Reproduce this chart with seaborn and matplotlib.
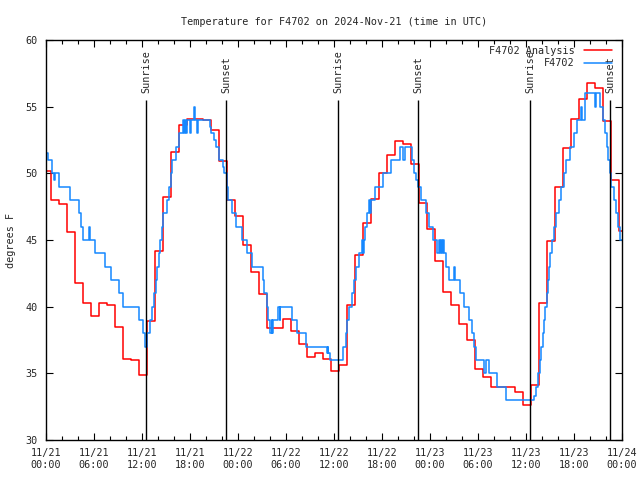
import pandas as pd
import numpy as np
import seaborn as sns
import matplotlib.pyplot as plt
import matplotlib.dates as mdates

# hourly analysis values (11/21 00:00 -> 11/24 00:00)
analysis_temps = [50.2, 48.0, 47.7, 45.6, 41.8, 40.3, 39.3, 40.3, 40.1, 38.5,
                  36.1, 36.0, 34.9, 38.9, 44.2, 48.2, 51.6, 53.6, 54.1, 54.1,
                  54.0, 53.25, 50.9, 48.0, 46.8, 44.6, 42.6, 40.95, 38.4, 38.4,
                  39.1, 38.2, 37.2, 36.2, 36.5, 36.05, 35.2, 35.6, 40.1, 43.9,
                  46.3, 48.1, 50.0, 51.4, 52.4, 52.2, 50.7, 47.75, 45.8, 43.4,
                  41.1, 40.1, 38.7, 37.5, 35.3, 34.75, 34.0, 34.0, 33.95, 33.6,
                  32.6, 34.1, 40.3, 44.95, 48.95, 51.9, 54.1, 55.6, 56.8, 56.4,
                  53.9, 49.5, 45.7]

# station observations: hours since 11/21 00:00 where the reading changes
obs_hours = [0.0, 0.2, 0.75, 1.05, 1.17, 1.67, 3.05, 4.08, 4.38, 4.58,
             5.42, 5.55, 6.17, 7.42, 8.15, 9.17, 9.58, 11.67, 12.08, 12.38,
             12.62, 13.0, 13.25, 13.46, 13.75, 13.9, 14.08, 14.3, 14.46, 14.67,
             15.08, 15.42, 15.62, 15.75, 16.25, 16.67, 17.17, 17.3, 17.4, 17.55,
             17.65, 18.0, 18.1, 18.55, 18.6, 18.85, 18.95, 20.5, 20.6, 21.05,
             21.25, 21.67, 22.17, 22.3, 22.58, 22.7, 23.2, 23.75, 24.55, 25.1,
             25.7, 27.1, 27.25, 27.6, 27.8, 28.0, 28.2, 28.3, 28.4, 29.05,
             29.2, 29.3, 30.8, 31.33, 32.5, 35.1, 35.2, 35.3, 35.5, 37.17,
             37.46, 37.67, 37.9, 38.2, 38.5, 38.8, 39.1, 39.5, 39.6, 39.7,
             39.83, 40.17, 40.4, 40.5, 40.6, 41.1, 42.17, 43.17, 44.25, 44.67,
             44.83, 45.7, 46.0, 46.3, 46.55, 46.9, 47.45, 47.9, 48.4, 48.9,
             49.1, 49.2, 49.35, 49.45, 49.6, 49.7, 49.95, 50.4, 51.0, 51.1,
             51.75, 52.25, 52.9, 53.2, 53.5, 53.7, 54.75, 55.0, 55.4, 56.4,
             57.45, 61.0, 61.3, 61.5, 61.75, 61.9, 62.1, 62.25, 62.4, 62.6,
             62.75, 62.9, 63.0, 63.2, 63.5, 63.8, 64.1, 64.4, 64.7, 65.0,
             65.5, 66.0, 66.4, 66.9, 67.0, 67.4, 68.6, 68.7, 69.3, 69.6,
             69.9, 70.1, 70.3, 70.45, 70.6, 71.0, 71.3, 71.5, 71.7, 72.0]
obs_temps = [51.5, 51.0, 50.0, 49.5, 50.0, 49.0, 48.0, 47.0, 46.0, 45.0,
             46.0, 45.0, 44.0, 43.0, 42.0, 41.0, 40.0, 39.0, 38.0, 37.0,
             38.0, 39.0, 40.0, 41.0, 42.0, 43.0, 44.0, 45.0, 46.0, 47.0,
             48.0, 49.0, 50.0, 51.0, 52.0, 53.0, 54.0, 53.0, 54.0, 53.0,
             54.0, 53.0, 54.0, 55.0, 54.0, 53.0, 54.0, 53.5, 53.0, 52.5,
             52.0, 51.0, 50.5, 50.0, 49.0, 48.0, 47.0, 46.0, 45.0, 44.0,
             43.0, 42.0, 41.0, 40.0, 39.0, 38.0, 39.0, 38.0, 39.0, 40.0,
             39.0, 40.0, 39.0, 38.0, 37.0, 36.5, 37.0, 36.5, 36.0, 37.0,
             38.0, 39.0, 40.0, 41.0, 42.0, 43.0, 44.0, 45.0, 44.0, 45.0,
             46.0, 47.0, 48.0, 47.0, 48.0, 49.0, 50.0, 51.0, 52.0, 51.0,
             52.0, 51.0, 50.0, 49.5, 49.0, 48.0, 47.0, 46.0, 45.0, 44.0,
             45.0, 44.0, 45.0, 44.0, 45.0, 44.0, 43.0, 42.0, 43.0, 42.0,
             41.0, 40.0, 39.0, 38.0, 37.0, 36.0, 35.0, 36.0, 35.0, 34.0,
             33.0, 33.3, 34.0, 35.0, 36.0, 37.0, 38.0, 39.0, 40.0, 41.0,
             42.0, 43.0, 44.0, 45.0, 46.0, 47.0, 48.0, 49.0, 50.0, 51.0,
             52.0, 53.0, 54.0, 55.0, 54.0, 56.0, 55.0, 56.0, 55.0, 54.0,
             53.0, 52.0, 51.0, 50.0, 49.0, 48.0, 47.0, 46.0, 45.0, 45.0]

sunrise_times = ["2024-11-21 12:30", "2024-11-22 12:30", "2024-11-23 12:30"]
sunset_times = ["2024-11-21 22:30", "2024-11-22 22:30", "2024-11-23 22:30"]

start = pd.Timestamp("2024-11-21 00:00")
# analysis valid times are a few minutes past the hour
red = pd.DataFrame({"time": pd.date_range(start + pd.Timedelta(minutes=5),
                                          periods=len(analysis_temps), freq="h"),
                    "temp": analysis_temps})
blue = pd.DataFrame({"time": start + pd.to_timedelta(obs_hours, unit="h"),
                     "temp": obs_temps})

sns.set_style("ticks")
plt.rcParams["font.family"] = ["DejaVu Sans Mono", "DejaVu Sans"]
fs = 7.3

fig, ax = plt.subplots(figsize=(6.4, 4.8), dpi=100)
fig.subplots_adjust(left=0.072, right=0.972, top=0.917, bottom=0.083)

sns.lineplot(data=red, x="time", y="temp", ax=ax, color="#ff0000", lw=1.1,
             drawstyle="steps-mid", label="F4702 Analysis")
sns.lineplot(data=blue, x="time", y="temp", ax=ax, color="#1588ff", lw=1.1,
             drawstyle="steps-post", label="F4702")

for t in sunrise_times:
    ax.vlines(pd.Timestamp(t), 30, 55.5, color="black", lw=1.0)
    ax.text(pd.Timestamp(t), 56.0, "Sunrise", rotation=90, ha="center",
            va="bottom", fontsize=fs)
for t in sunset_times:
    ax.vlines(pd.Timestamp(t), 30, 55.5, color="black", lw=1.0)
    ax.text(pd.Timestamp(t), 56.0, "Sunset", rotation=90, ha="center",
            va="bottom", fontsize=fs)

ax.set_xlim(start, start + pd.Timedelta(hours=72))
ax.set_ylim(30, 60)
ax.set_yticks(np.arange(30, 61, 5))
ax.xaxis.set_major_locator(mdates.HourLocator(byhour=[0, 6, 12, 18]))
ax.xaxis.set_minor_locator(mdates.HourLocator(interval=2))
ax.xaxis.set_major_formatter(mdates.DateFormatter("%m/%d\n%H:%M"))

ax.tick_params(which="both", direction="in", top=True, right=True,
               labelsize=fs, color="black", width=0.8)
ax.tick_params(which="major", length=5, pad=6)
ax.tick_params(which="minor", length=3)
for s in ax.spines.values():
    s.set_linewidth(1.0)
    s.set_color("black")

ax.set_xlabel("")
ax.set_ylabel("degrees F", fontsize=fs, labelpad=7)
ax.set_title("Temperature for F4702 on 2024-Nov-21 (time in UTC)", fontsize=fs, pad=11)

ax.legend(loc="upper right", bbox_to_anchor=(0.995, 1.003), markerfirst=False,
          frameon=False, fontsize=fs, handlelength=2.8, borderpad=0.2,
          labelspacing=0.25, handletextpad=0.9)

fig.savefig("out.png", dpi=100)
